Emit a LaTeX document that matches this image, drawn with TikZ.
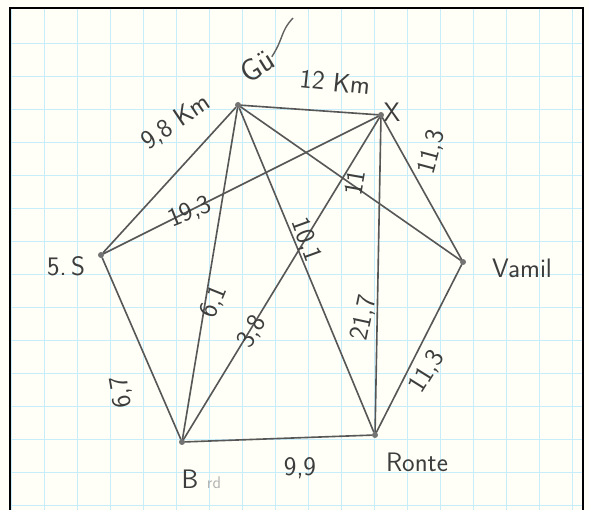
\documentclass[tikz,border=0pt]{standalone}
\begin{document}
\begin{tikzpicture}[x=0.025cm,y=-0.025cm,
  pencil/.style={draw=black!66,line width=1.15pt,line cap=round},
  spot/.style={circle,fill=black!55,inner sep=1.5pt},
  hand/.style={text=black!76,font=\sffamily\fontsize{19}{21}\selectfont,inner sep=0pt}]
  \useasboundingbox (0,0) rectangle (589,510);
  \fill[yellow!3] (0,0) rectangle (589,510);
  % squared paper
  \foreach \g in {11,44,...,583}
    \draw[cyan!22,line width=0.5pt] (\g,8) -- (\g,510);
  \foreach \g in {43,76,...,510}
    \draw[cyan!22,line width=0.5pt] (10,\g) -- (583,\g);
  \draw[line width=2pt] (10,510) -- (10,8) -- (583,8) -- (583,510);

  % places
  \node[spot] (G) at (238,105) {};
  \node[spot] (X) at (381,115) {};
  \node[spot] (V) at (463,262) {};
  \node[spot] (R) at (375,435) {};
  \node[spot] (B) at (182,442) {};
  \node[spot] (S) at (101,255) {};

  % roads
  \foreach \a/\b in {G/X,X/V,V/R,R/B,B/S,S/G,S/X,G/B,G/R,G/V,B/X,X/R}
    \draw[pencil] (\a) -- (\b);

  % names
  \node[hand,font=\sffamily\fontsize{22}{24}\selectfont] (nG) at (257,66) [rotate=32] {Gü};
  \draw[black!62,line width=1pt] (nG.east) .. controls (284,38) and (280,32) .. (293,18);
  \node[hand] (nX) at (392,112) {X};
  \node[hand] (nV) at (522,268) {Vamil};
  \node[hand] (nR) at (417,462) {Ronte};
  \node[hand] (nB) at (190,479) {B};
  \node[hand,text=black!30,font=\sffamily\large] (nBr) at (214,483) {rd};
  \node[hand] (nS) at (66,266) {5.\,S};

  % distances
  \foreach \x/\y/\r/\t in {176/122/34/{9,8 Km},335/82/-6/{12 Km},432/152/75/{11,3},
      355/183/80/{11},190/212/22/{19,3},214/302/68/{6,1},252/332/60/{3,8},
      306/240/-70/{10,1},364/318/78/{21,7},427/372/58/{11,3},122/392/100/{6,7},
      300/468/0/{9,9}}
    \node[hand,rotate=\r] at (\x,\y) {\t};
\end{tikzpicture}
\end{document}
